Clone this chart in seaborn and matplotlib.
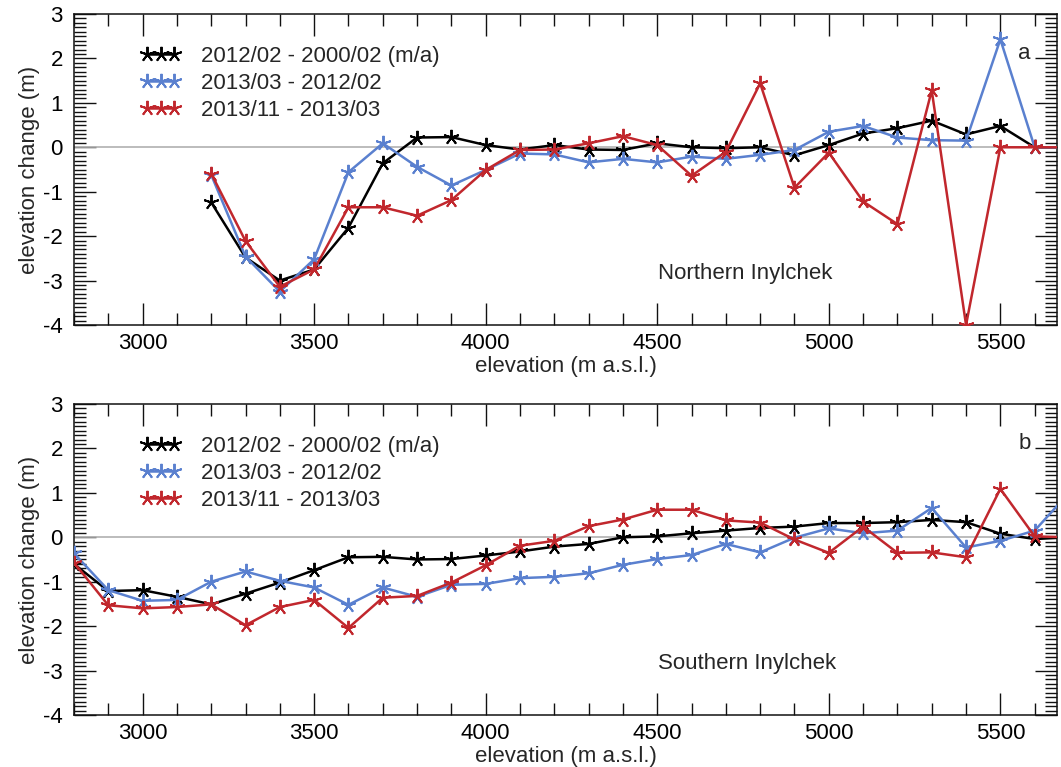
import numpy as np
import matplotlib
matplotlib.use("Agg")
import matplotlib.pyplot as plt
from matplotlib.ticker import MultipleLocator
import seaborn as sns

# elevation bins (m a.s.l.)
elev_n = [3200, 3300, 3400, 3500, 3600, 3700, 3800, 3900, 4000, 4100, 4200, 4300, 4400,
          4500, 4600, 4700, 4800, 4900, 5000, 5100, 5200, 5300, 5400, 5500, 5600, 5700]
elev_s = [2800, 2900, 3000, 3100] + elev_n

# Northern Inylchek
n_1200 = [-1.24, -2.48, -3.0, -2.75, -1.81, -0.36, 0.22, 0.23, 0.05, -0.05, 0.05, -0.05, -0.06,
          0.09, 0.0, -0.02, 0.0, -0.18, 0.05, 0.31, 0.43, 0.6, 0.29, 0.48, 0.0, 0.0]
n_1312 = [-0.62, -2.46, -3.25, -2.52, -0.56, 0.09, -0.44, -0.86, -0.51, -0.14, -0.16, -0.34, -0.26,
          -0.34, -0.21, -0.26, -0.17, -0.06, 0.35, 0.48, 0.22, 0.16, 0.15, 2.43, 0.0, 0.0]
n_1313 = [-0.59, -2.11, -3.14, -2.75, -1.35, -1.35, -1.54, -1.19, -0.51, -0.06, -0.05, 0.09, 0.25,
          0.05, -0.64, -0.1, 1.44, -0.91, -0.12, -1.22, -1.73, 1.28, -4.0, 0.0, 0.0, 0.0]

# Southern Inylchek
s_1200 = [-0.6, -1.21, -1.19, -1.34, -1.51, -1.27, -1.02, -0.74, -0.45, -0.44, -0.5, -0.49, -0.41,
          -0.32, -0.21, -0.15, 0.0, 0.02, 0.09, 0.15, 0.21, 0.24, 0.32, 0.32, 0.34, 0.39, 0.34,
          0.08, -0.04, 0.0]
s_1312 = [-0.36, -1.19, -1.43, -1.41, -1.0, -0.77, -0.98, -1.13, -1.52, -1.13, -1.34, -1.07, -1.05,
          -0.92, -0.89, -0.81, -0.62, -0.49, -0.4, -0.15, -0.34, -0.01, 0.2, 0.09, 0.15, 0.66,
          -0.23, -0.08, 0.15, 1.0]
s_1313 = [-0.57, -1.53, -1.6, -1.57, -1.51, -1.98, -1.57, -1.41, -2.04, -1.36, -1.32, -1.02, -0.63,
          -0.19, -0.08, 0.25, 0.4, 0.62, 0.62, 0.38, 0.33, -0.05, -0.35, 0.24, -0.35, -0.34,
          -0.45, 1.09, 0.02, 0.0]

labels = ["2012/02 - 2000/02 (m/a)", "2013/03 - 2012/02", "2013/11 - 2013/03"]
colors = ["black", "#5a80cf", "#c1272d"]

sns.set_style("ticks")
plt.rcParams["font.family"] = ["Liberation Sans", "DejaVu Sans"]
plt.rcParams["axes.unicode_minus"] = False
fs = 16

fig = plt.figure(figsize=(10.61, 7.67), dpi=100)
ax1 = fig.add_axes([0.0697, 0.5763, 0.9265, 0.4054])
ax2 = fig.add_axes([0.0697, 0.0678, 0.9265, 0.4055])

panels = [
    (ax1, elev_n, [n_1200, n_1312, n_1313], "Northern Inylchek", "a"),
    (ax2, elev_s, [s_1200, s_1312, s_1313], "Southern Inylchek", "b"),
]

for ax, x, series, name, letter in panels:
    ax.axhline(0, color="#b0b0b0", lw=1.2, zorder=1)
    for vals, lab, c in zip(series, labels, colors):
        sns.lineplot(x=x, y=vals, ax=ax, color=c, lw=1.8, marker=(5, 2, 0), markersize=11,
                     mec=c, mew=1.4, label=lab, estimator=None, zorder=3)
    ax.set_xlim(2800, 5665)
    ax.set_ylim(-4, 3)
    ax.xaxis.set_major_locator(MultipleLocator(500))
    ax.xaxis.set_minor_locator(MultipleLocator(100))
    ax.yaxis.set_major_locator(MultipleLocator(1))
    ax.yaxis.set_minor_locator(MultipleLocator(0.1))
    ax.tick_params(which="both", direction="in", top=True, right=True, width=1, colors="#111111",
                   labelcolor="black", labelsize=fs)
    ax.tick_params(which="major", length=16)
    ax.tick_params(axis="x", which="major", pad=6)
    ax.tick_params(axis="y", which="major", pad=8)
    ax.tick_params(which="minor", length=8.5)
    for sp in ax.spines.values():
        sp.set_linewidth(1.1)
        sp.set_color("#111111")
    ax.set_xlabel("elevation (m a.s.l.)", fontsize=fs, labelpad=1)
    ax.set_ylabel("elevation change (m)", fontsize=fs, labelpad=2)
    ax.text(0.594, 0.167, name, transform=ax.transAxes, fontsize=fs, va="center", ha="left")
    ax.text(0.967, 0.874, letter, transform=ax.transAxes, fontsize=fs, va="center", ha="center")
    ax.legend(loc="upper left", bbox_to_anchor=(0.068, 0.897), frameon=False, numpoints=3,
              handlelength=1.8, handletextpad=0.9, labelspacing=0.26, borderaxespad=0,
              borderpad=0, fontsize=fs)

fig.savefig("out.png", dpi=100)
